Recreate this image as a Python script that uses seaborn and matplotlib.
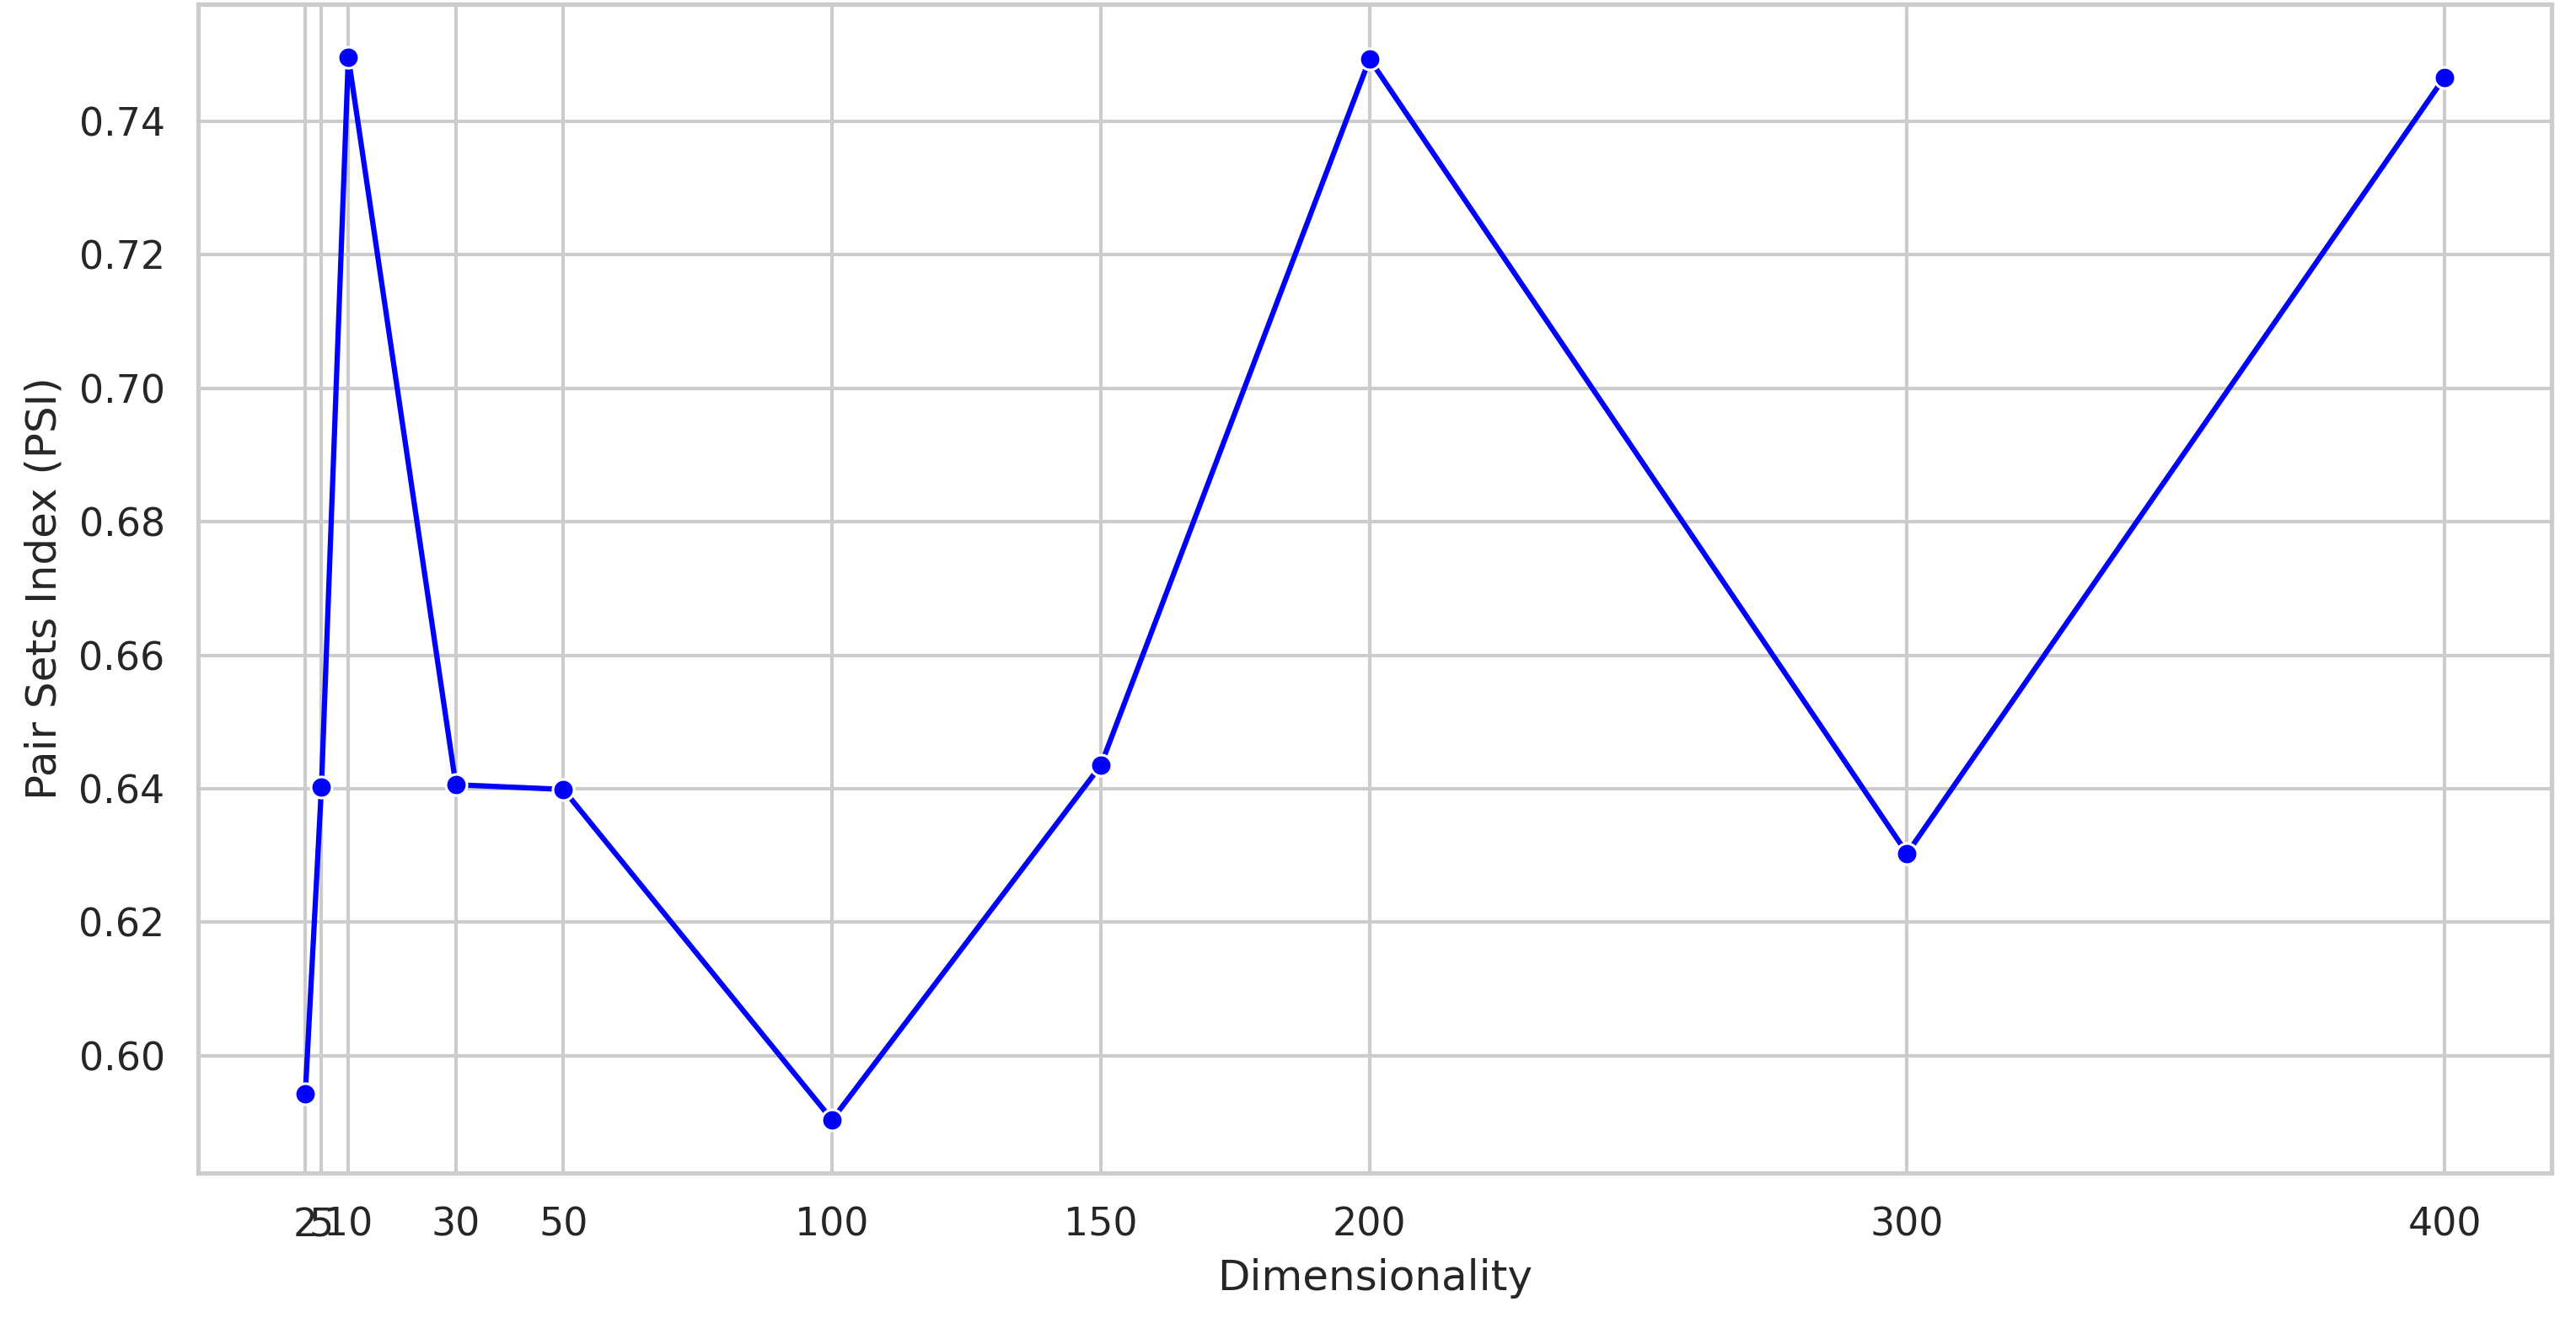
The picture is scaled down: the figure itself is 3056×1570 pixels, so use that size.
import pandas as pd
import matplotlib
matplotlib.use("Agg")
import matplotlib.pyplot as plt
import seaborn as sns

dimensions = [2, 5, 10, 30, 50, 100, 150, 200, 300, 400]
psi = [0.5943, 0.6403, 0.7496, 0.6406, 0.6399, 0.5904, 0.6435, 0.7493, 0.6303, 0.7466]

df = pd.DataFrame({"Dimensionality": dimensions, "PSI": psi})

sns.set_theme(style="whitegrid")

fig = plt.figure(figsize=(3056 / 300, 1570 / 300), dpi=300)
ax = sns.lineplot(data=df, x="Dimensionality", y="PSI", marker="o", color="blue")
ax.set_xticks(dimensions)
ax.set_xlabel("Dimensionality")
ax.set_ylabel("Pair Sets Index (PSI)")
plt.subplots_adjust(left=0.077, right=0.9905, top=0.997, bottom=0.1134)
plt.savefig("out.png", dpi=300)
